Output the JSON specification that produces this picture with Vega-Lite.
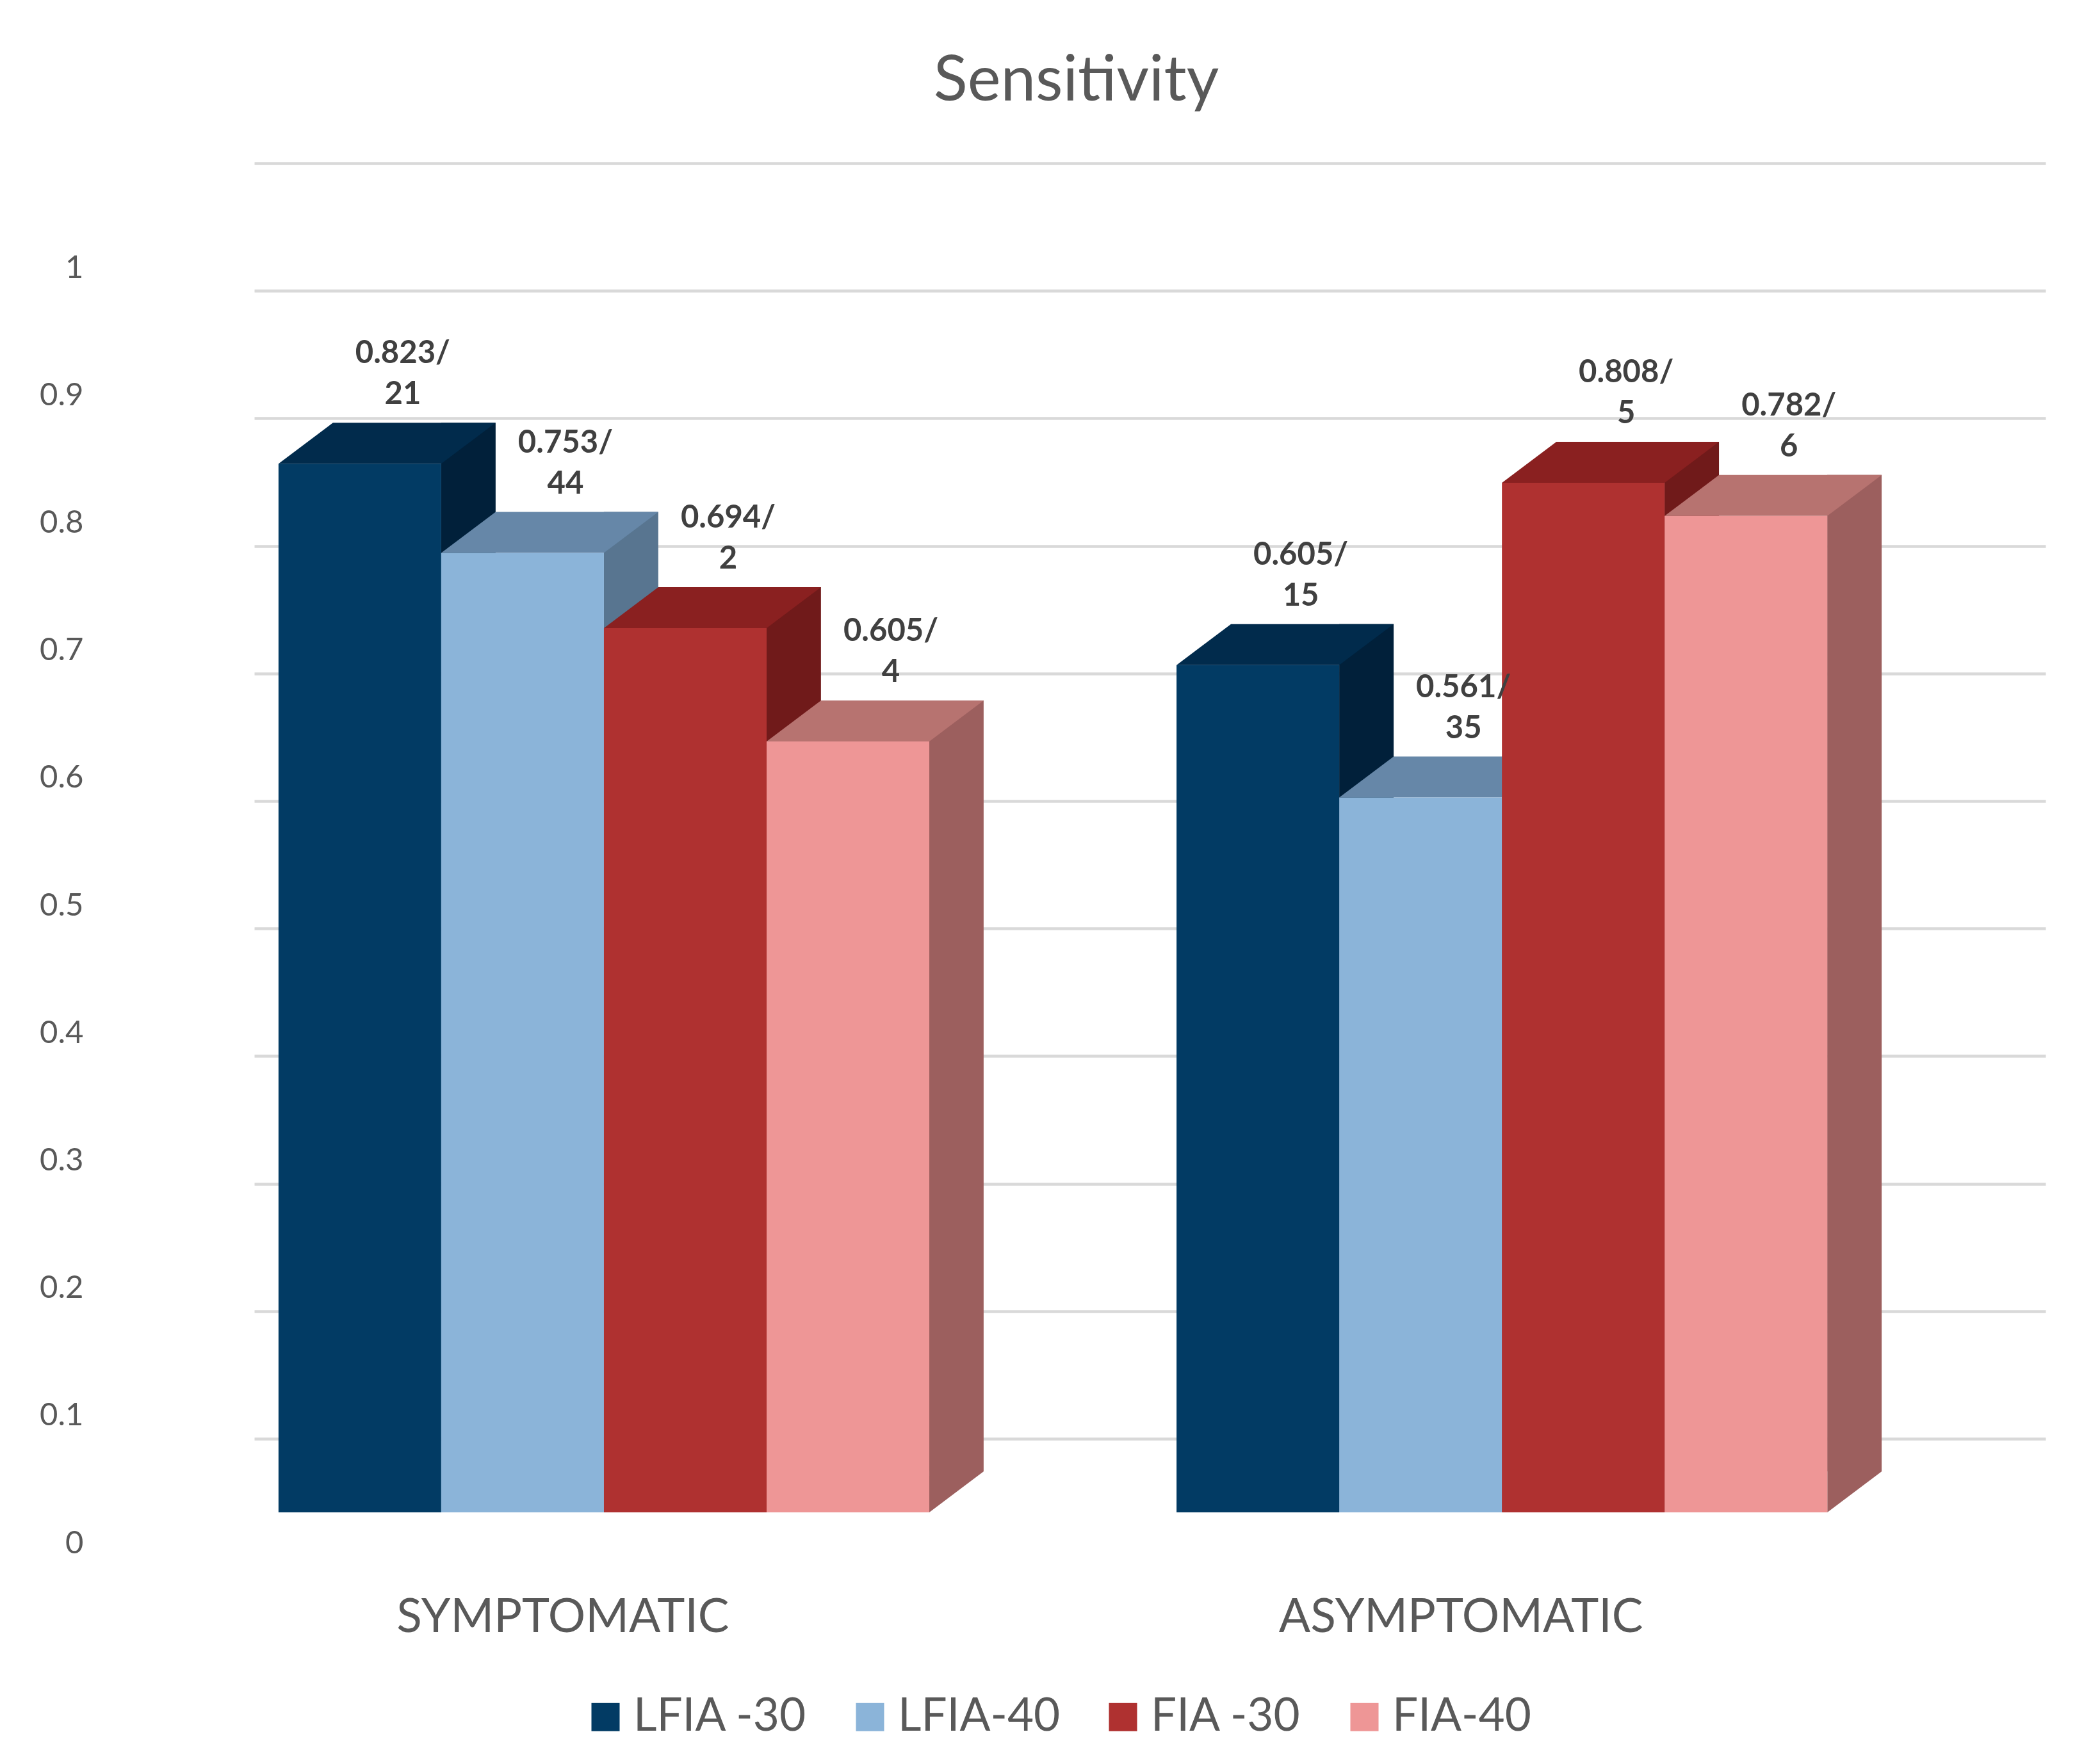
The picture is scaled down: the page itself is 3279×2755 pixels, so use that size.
{
  "$schema": "https://vega.github.io/schema/vega-lite/v6.json",
  "autosize": {"type": "none"},
  "width": 2797,
  "height": 2165,
  "padding": {"left": 397, "top": 250, "right": 85, "bottom": 340},
  "background": "white",
  "config": {"view": {"stroke": null}, "font": "Lato"},
  "title": {
    "text": "Sensitivity",
    "font": "Lato",
    "fontSize": 98,
    "fontWeight": "normal",
    "color": "#595959",
    "anchor": "middle",
    "frame": "group",
    "baseline": "alphabetic",
    "dx": -115,
    "offset": -5
  },
  "data": {
    "values": [
      {"group": "SYMPTOMATIC", "series": "LFIA -30", "value": 0.823, "label": "0.823/\n21"},
      {"group": "SYMPTOMATIC", "series": "LFIA-40", "value": 0.753, "label": "0.753/\n44"},
      {"group": "SYMPTOMATIC", "series": "FIA -30", "value": 0.694, "label": "0.694/\n2"},
      {"group": "SYMPTOMATIC", "series": "FIA-40", "value": 0.605, "label": "0.605/\n4"},
      {"group": "ASYMPTOMATIC", "series": "LFIA -30", "value": 0.665, "label": "0.605/\n15"},
      {"group": "ASYMPTOMATIC", "series": "LFIA-40", "value": 0.561, "label": "0.561/\n35"},
      {"group": "ASYMPTOMATIC", "series": "FIA -30", "value": 0.808, "label": "0.808/\n5"},
      {"group": "ASYMPTOMATIC", "series": "FIA-40", "value": 0.782, "label": "0.782/\n6"}
    ]
  },
  "layer": [
    {
      "mark": {"type": "point", "opacity": 0},
      "encoding": {
        "y": {
          "field": "value",
          "type": "quantitative",
          "scale": {"domain": [-0.08434, 1.00251], "nice": false, "zero": false},
          "axis": {
            "orient": "right",
            "title": null,
            "grid": true,
            "gridColor": "#D9D9D9",
            "gridWidth": 4.5,
            "labels": false,
            "ticks": false,
            "domain": false,
            "values": [0, 0.1, 0.2, 0.3, 0.4, 0.5, 0.6, 0.7, 0.8, 0.9, 1]
          }
        }
      }
    },
    {
      "mark": {"type": "point", "opacity": 0},
      "encoding": {
        "y": {
          "field": "value",
          "type": "quantitative",
          "scale": {"domain": [-0.00251, 1.08434], "nice": false, "zero": false},
          "axis": {
            "orient": "left",
            "title": null,
            "grid": false,
            "ticks": false,
            "tickSize": 0,
            "domain": false,
            "values": [0, 0.1, 0.2, 0.3, 0.4, 0.5, 0.6, 0.7, 0.8, 0.9, 1],
            "format": "~g",
            "labelFont": "Lato",
            "labelFontSize": 49,
            "labelColor": "#595959",
            "labelPadding": 267,
            "labelLimit": 1000
          }
        }
      }
    },
    {
      "encoding": {
        "x": {
          "field": "group",
          "type": "nominal",
          "sort": ["SYMPTOMATIC", "ASYMPTOMATIC"],
          "scale": {"paddingInner": 0.2753, "paddingOuter": 0.135, "align": 0.1},
          "axis": {
            "orient": "bottom",
            "title": null,
            "ticks": false,
            "tickSize": 0,
            "domain": false,
            "grid": false,
            "labelAngle": 0,
            "labelFont": "Lato",
            "labelFontSize": 73,
            "labelColor": "#595959",
            "labelBaseline": "alphabetic",
            "labelPadding": 133,
            "labelOffset": -64,
            "labelLimit": 2000
          }
        },
        "y": {
          "field": "value",
          "type": "quantitative",
          "scale": {"domain": [-0.02663, 1.06131], "nice": false, "zero": false},
          "axis": null
        }
      },
      "layer": [
        {
          "mark": {"type": "bar", "width": 85, "yOffset": -64, "y2Offset": -64},
          "encoding": {
            "xOffset": {
              "field": "series",
              "type": "nominal",
              "sort": ["LFIA -30", "LFIA-40", "FIA -30", "FIA-40"],
              "scale": {"range": [169.5, 1185.5], "paddingInner": 0, "paddingOuter": 0}
            },
            "y2": {"datum": 0},
            "color": {
              "field": "series",
              "type": "nominal",
              "scale": {"domain": ["LFIA -30", "LFIA-40", "FIA -30", "FIA-40"], "range": ["#01203A", "#587590", "#701A1A", "#9C5F5E"]},
              "legend": null
            }
          }
        },
        {
          "layer": [
            {
              "mark": {"type": "point", "shape": "M 127 -64 L 127 0 L 212 -64 Z", "size": 4, "filled": true, "opacity": 1, "strokeWidth": 0},
              "encoding": {
                "y": {"datum": 0, "type": "quantitative"},
                "color": {
                  "field": "series",
                  "type": "nominal",
                  "scale": {"domain": ["LFIA -30", "LFIA-40", "FIA -30", "FIA-40"], "range": ["#01203A", "#587590", "#701A1A", "#9C5F5E"]},
                  "legend": null
                }
              }
            },
            {
              "mark": {"type": "point", "shape": "M -127 0 L 127 0 L 212 -64 L -42 -64 Z", "size": 4, "filled": true, "opacity": 1, "strokeWidth": 0},
              "encoding": {
                "color": {
                  "field": "series",
                  "type": "nominal",
                  "scale": {"domain": ["LFIA -30", "LFIA-40", "FIA -30", "FIA-40"], "range": ["#012B4C", "#6687A8", "#8A2020", "#B77370"]},
                  "legend": null
                }
              }
            },
            {
              "mark": {"type": "bar"},
              "encoding": {
                "y2": {"datum": 0},
                "color": {
                  "field": "series",
                  "type": "nominal",
                  "scale": {"domain": ["LFIA -30", "LFIA-40", "FIA -30", "FIA-40"], "range": ["#023B64", "#8BB4D9", "#AF3130", "#EE9696"]},
                  "legend": {
                    "orient": "none",
                    "legendX": 513,
                    "legendY": 2396,
                    "direction": "horizontal",
                    "title": null,
                    "symbolType": "square",
                    "symbolSize": 1936,
                    "symbolStrokeWidth": 0,
                    "labelFont": "Lato",
                    "labelFontSize": 71,
                    "labelColor": "#595959",
                    "labelOffset": 8,
                    "labelLimit": 2000,
                    "columnPadding": 62,
                    "padding": 0
                  }
                }
              }
            },
            {
              "mark": {"type": "text", "dx": 67, "dy": -147, "baseline": "bottom", "align": "center", "lineBreak": "\n", "lineHeight": 64, "font": "Lato", "fontSize": 49, "fontWeight": "bold", "color": "#404040"},
              "encoding": {
                "text": {"field": "label", "type": "nominal"}
              }
            }
          ],
          "encoding": {
            "xOffset": {
              "field": "series",
              "type": "nominal",
              "sort": ["LFIA -30", "LFIA-40", "FIA -30", "FIA-40"],
              "scale": {"paddingInner": 0, "paddingOuter": 0}
            }
          },
          "resolve": {"scale": {"color": "independent"}}
        }
      ],
      "resolve": {"scale": {"color": "independent", "xOffset": "independent"}}
    }
  ],
  "resolve": {"scale": {"y": "independent"}, "axis": {"y": "independent"}}
}
